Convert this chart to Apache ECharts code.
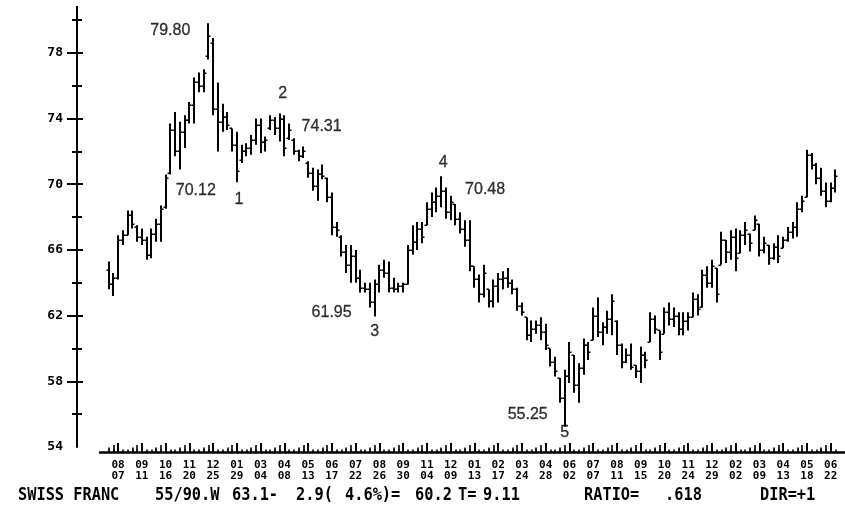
<!DOCTYPE html>
<html><head><meta charset="utf-8">
<script src="https://cdn.jsdelivr.net/npm/echarts@6/dist/echarts.min.js"></script>
<style>html,body{margin:0;padding:0;background:#fff;}#c{width:845px;height:523px;}</style>
</head><body><div id="c"></div>
<script>
// Weekly OHLC, Swiss franc futures, first bar = week of 07/24/87
const highs = [65.3,64.6,66.9,67.2,68.4,68.4,67.5,67.3,66.8,67.3,67.9,68.7,70.6,73.7,74.4,73.8,74.2,75.0,76.5,76.8,
77.0,79.8,78.9,76.2,74.9,74.4,73.4,73.2,72.4,72.5,73.0,74.0,74.0,72.9,74.2,74.1,74.31,74.2,73.7,72.8,
72.1,72.3,71.4,71.0,70.9,71.2,70.4,69.5,67.7,66.9,66.3,66.3,66.0,64.8,64.0,64.0,64.2,65.1,65.4,65.3,
64.3,64.0,64.0,66.3,67.5,67.7,67.7,68.9,69.5,69.8,70.48,69.8,69.3,68.8,68.3,67.8,67.8,65.0,64.5,65.1,
63.6,64.2,64.6,64.7,64.9,64.2,63.7,62.8,61.9,61.7,61.7,61.9,61.5,60.0,59.5,58.2,58.7,60.4,59.6,59.1,
60.6,60.4,62.5,63.1,61.6,62.3,63.3,61.7,60.3,60.0,60.3,59.0,60.1,59.8,62.2,62.0,61.1,62.5,62.8,62.5,
62.2,62.2,62.2,63.4,63.3,64.8,65.0,65.4,64.9,67.1,66.6,67.2,67.3,67.2,67.7,67.0,68.1,67.6,66.8,66.3,
66.4,66.9,66.8,67.4,67.7,68.9,69.3,72.1,71.9,71.3,71.0,70.1,70.1,70.9];
const lows = [63.6,63.2,64.2,66.3,66.9,67.3,66.5,66.3,65.4,65.5,66.5,66.5,68.5,70.6,71.7,70.9,72.2,73.7,73.7,75.6,
75.6,77.6,74.2,72.0,73.2,73.3,72.0,70.12,71.3,71.7,71.8,72.4,71.9,72.0,73.3,73.0,72.6,71.7,72.7,71.8,
71.4,71.6,70.4,69.6,69.0,70.3,68.9,66.9,66.8,65.6,64.6,64.0,64.0,63.4,63.4,62.5,61.95,63.4,64.3,63.4,
63.4,63.4,63.4,63.9,65.7,66.0,66.4,67.5,68.0,68.3,68.6,67.9,67.8,67.5,67.0,66.2,64.7,63.7,62.8,63.1,
62.5,62.5,62.8,63.6,63.7,63.3,62.3,62.0,60.5,60.4,60.9,60.5,59.9,58.9,58.3,56.7,55.25,57.9,57.3,56.7,
58.4,59.3,60.5,60.7,60.2,60.9,60.8,59.6,58.8,59.1,58.7,58.2,57.9,58.8,60.4,60.9,59.3,60.9,61.4,61.3,
60.8,60.8,61.1,61.9,62.0,62.5,63.7,63.7,62.8,65.1,65.2,65.4,64.7,65.8,66.3,65.9,67.2,65.6,65.8,65.1,
65.4,65.2,66.1,66.5,66.7,66.8,68.3,69.2,70.9,70.0,69.3,68.6,68.9,69.5];
const opens = [64.8,63.9,64.3,66.6,66.9,68.1,67.4,66.8,66.6,65.7,67.0,67.6,68.6,70.7,73.3,72.0,73.2,73.9,74.8,76.2,
76.0,77.8,78.6,74.6,73.8,74.1,73.4,72.4,71.5,72.0,72.2,72.7,73.6,72.6,73.4,73.9,73.4,74.0,72.8,72.7,
72.0,71.7,71.3,70.7,69.9,70.6,70.4,69.2,67.4,66.8,65.9,65.1,65.6,64.3,63.7,63.6,62.8,63.9,64.8,64.6,
63.7,63.6,63.8,63.9,66.0,66.5,67.3,67.5,68.5,68.9,69.3,69.6,68.3,68.8,67.9,67.3,66.6,65.0,64.2,63.3,
63.6,62.9,63.8,64.2,64.3,64.0,63.6,62.6,61.9,60.8,61.2,61.4,61.0,60.0,59.2,58.2,57.0,58.3,59.6,57.8,
58.8,60.2,60.5,62.0,61.0,61.3,61.8,61.7,60.2,59.2,59.6,59.0,58.6,59.6,60.4,61.8,61.1,60.9,62.2,61.8,
62.0,61.2,61.7,61.9,63.0,62.5,64.5,64.0,64.9,65.1,66.6,65.9,66.8,65.8,66.9,67.0,67.2,67.6,66.0,66.3,
65.5,66.2,66.1,66.6,67.1,67.4,68.5,69.2,71.8,71.2,70.4,69.6,69.0,69.8];
const closes = [63.9,64.3,66.6,66.9,68.1,67.6,66.8,66.6,65.7,67.0,67.6,68.5,70.4,73.3,72.0,73.2,73.9,74.8,76.2,76.0,
76.8,79.0,74.6,73.8,74.1,73.6,72.4,70.8,72.0,72.2,72.7,73.6,72.6,72.7,73.9,73.4,74.0,72.2,73.3,72.0,
71.7,72.0,70.7,69.9,70.6,70.5,69.2,67.4,67.2,65.9,65.1,65.6,64.3,63.7,63.6,62.8,63.9,64.8,64.6,63.7,
63.6,63.8,63.9,66.0,66.5,67.3,66.8,68.5,68.9,69.3,69.6,68.3,68.9,67.9,67.3,66.6,65.0,64.2,63.3,64.6,
62.9,63.8,64.2,64.3,64.0,63.6,62.6,62.2,60.8,61.2,61.4,61.0,60.2,59.2,58.6,57.0,58.3,59.8,57.8,58.8,
60.2,59.8,62.0,61.0,61.3,61.8,62.9,60.2,59.2,59.6,58.9,58.6,59.6,59.3,61.8,61.2,59.8,62.2,61.8,62.0,
61.2,61.7,61.9,63.0,62.4,64.5,64.0,65.0,63.3,66.6,65.9,66.8,65.5,66.9,67.2,66.4,67.8,66.0,66.4,65.5,
66.2,65.6,66.6,67.1,67.4,68.5,69.0,71.8,71.2,70.4,69.6,69.0,69.8,70.5];

const yTickLabels = [54, 58, 62, 66, 70, 74, 78];
const yMinorTicks = [56, 60, 64, 68, 72, 76, 80];
const xTickMonths = ['08','09','10','11','12','01','03','04','05','06','07','08','09','11','12','01','02','03','04','06','07','08','09','10','11','12','02','03','04','05','06'];
const xTickDays   = ['07','11','16','20','25','29','04','08','13','17','22','26','30','04','09','13','17','24','28','02','07','11','15','20','24','29','02','09','13','18','22'];
const firstLabelWeek = 2, labelEvery = 5;

const annotTexts  = ['79.80','70.12','1','2','74.31','61.95','3','4','70.48','55.25','5'];
const annotWeeks  = [21, 27, 27, 36, 36, 56, 56, 70, 70, 96, 96];
const annotValues = [79.80, 70.12, 70.12, 74.31, 74.31, 61.95, 61.95, 70.48, 70.48, 55.25, 55.25];

const footerTexts = ['SWISS FRANC','55/90.W','63.1-','2.9(','4.6%)=','60.2','T=','9.11','RATIO=','.618','DIR=+1'];

// ---- layout / style (not data) ----
const annotOffsets = [[-38,7],[-41,8],[2,17],[3,-20],[42,13],[-43,-4],[0,15],[2,-14],[44,13],[-37,-12],[0,6]];
const footerX = [18,155,232,296,345,415,458,483,584,665,760];

const weekIdx = highs.map((_, i) => i);
const labelWeeks = xTickMonths.map((_, k) => firstLabelWeek + k * labelEvery);
const preLabel1 = labelWeeks.map(w => w - 1).filter(w => w >= 0);
const preLabel2 = labelWeeks.map(w => w - 2).filter(w => w >= 0);
const ohlc = highs.map((h, i) => [i, opens[i], h, lows[i], closes[i]]);

const X_MIN = -1.8, X_MAX = 155, PX_PER_WEEK = 4.807;
const chart = echarts.init(document.getElementById('c'), null, {renderer: 'canvas'});

function yAx(extra) {
  const o = Object.assign({
    type: 'value', min: 54, max: 80, position: 'left', offset: 23,
    splitLine: {show: false}, axisLine: {show: false}, axisLabel: {show: false}, axisTick: {show: false}
  }, extra);
  o.axisLine = Object.assign({onZero: false}, o.axisLine);
  return o;
}
function xAx(extra) {
  const o = Object.assign({
    type: 'value', min: X_MIN, max: X_MAX, position: 'bottom', offset: 5,
    splitLine: {show: false}, axisLine: {show: false}, axisLabel: {show: false}, axisTick: {show: false}
  }, extra);
  o.axisLine = Object.assign({onZero: false}, o.axisLine);
  return o;
}
function xTicks(values, len) {
  return xAx({axisTick: {show: true, inside: true, length: len, lineStyle: {color: '#000', width: 1.6}, customValues: values}});
}

const option = {
  animation: false,
  backgroundColor: '#fff',
  grid: {left: 100, top: 20, width: (X_MAX - X_MIN) * PX_PER_WEEK, height: 427, containLabel: false},
  xAxis: [
    xAx({
      axisLine: {show: true, lineStyle: {color: '#000', width: 2.5}},
      axisTick: {show: true, inside: true, length: 9, lineStyle: {color: '#000', width: 2}, customValues: labelWeeks},
      axisLabel: {show: true, customValues: labelWeeks, margin: 8, fontSize: 11, lineHeight: 11,
        fontFamily: 'DejaVu Sans Mono', fontWeight: 'bold', color: '#000',
        formatter: v => { const k = Math.round((v - firstLabelWeek) / labelEvery); return xTickMonths[k] + '\n' + xTickDays[k]; }}
    }),
    xTicks(weekIdx, 2.5),
    xTicks(preLabel1, 7),
    xTicks(preLabel2, 4.5)
  ],
  yAxis: [
    yAx({
      axisLine: {show: true, lineStyle: {color: '#000', width: 2}, symbol: ['none', 'rect'], symbolSize: [2, 14], symbolOffset: [0, 7]},
      axisTick: {show: true, inside: false, length: 10, lineStyle: {color: '#000', width: 2}, customValues: yTickLabels.slice(1)},
      axisLabel: {show: true, customValues: yTickLabels, margin: 14, fontSize: 13, fontFamily: 'DejaVu Sans Mono', fontWeight: 'bold', color: '#000'}
    }),
    yAx({axisTick: {show: true, inside: true, length: 6, lineStyle: {color: '#000', width: 2}, customValues: yTickLabels.slice(1)}}),
    yAx({axisTick: {show: true, inside: false, length: 5, lineStyle: {color: '#000', width: 2}, customValues: yMinorTicks}}),
    yAx({axisTick: {show: true, inside: true, length: 5, lineStyle: {color: '#000', width: 2}, customValues: yMinorTicks}})
  ],
  series: [
    {
      type: 'custom', name: 'OHLC', xAxisIndex: 0, yAxisIndex: 0,
      data: ohlc, encode: {x: 0, y: [2, 3]}, clip: false,
      renderItem: function (params, api) {
        const x = api.value(0);
        const pH = api.coord([x, api.value(2)]);
        const pL = api.coord([x, api.value(3)]);
        const pO = api.coord([x, api.value(1)]);
        const pC = api.coord([x, api.value(4)]);
        const cx = Math.round(pH[0]);
        const st = {stroke: '#000', lineWidth: 2};
        const tk = {stroke: '#000', lineWidth: 1.5};
        return {type: 'group', children: [
          {type: 'line', shape: {x1: cx, y1: pH[1], x2: cx, y2: pL[1]}, style: st},
          {type: 'line', shape: {x1: cx - 2.5, y1: Math.round(pO[1]) + 0.25, x2: cx, y2: Math.round(pO[1]) + 0.25}, style: tk},
          {type: 'line', shape: {x1: cx, y1: Math.round(pC[1]) + 0.25, x2: cx + 2.5, y2: Math.round(pC[1]) + 0.25}, style: tk}
        ]};
      }
    },
    {
      type: 'scatter', name: 'labels', xAxisIndex: 0, yAxisIndex: 0, symbolSize: 0, silent: true,
      data: annotTexts.map((t, i) => ({
        value: [annotWeeks[i], annotValues[i]], name: t,
        label: {offset: annotOffsets[i]}
      })),
      label: {show: true, position: 'inside', align: 'center', verticalAlign: 'middle',
        formatter: p => p.name, fontFamily: 'Liberation Sans', fontSize: 16, color: '#000',
        textBorderColor: '#000', textBorderWidth: 0.3}
    }
  ],
  graphic: footerTexts.map((t, i) => ({
    type: 'text', x: footerX[i], y: 486, scaleX: 0.85,
    style: {text: t, font: 'bold 18px "DejaVu Sans Mono"', fill: '#000'}
  }))
};
chart.setOption(option);
</script></body></html>
